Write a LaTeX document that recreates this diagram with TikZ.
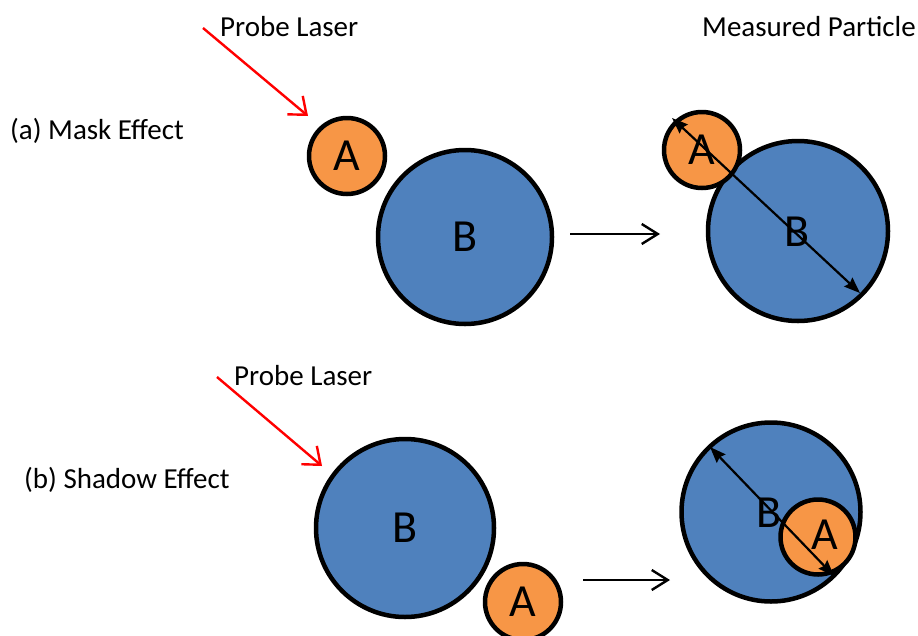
\documentclass[tikz,border=0pt]{standalone}
\usepackage{fontspec}
\setmainfont{Carlito}
\usetikzlibrary{arrows.meta}
\definecolor{orng}{HTML}{F79646}
\definecolor{blu}{HTML}{4F81BD}
\begin{document}
\begin{tikzpicture}[x=1pt,y=-1pt,
  lbl/.style={anchor=west,inner sep=0pt,font=\fontsize{29}{34}\selectfont},
  letter/.style={inner sep=0pt,font=\fontsize{46}{52}\selectfont},
  ball/.style={circle,draw=black,line width=4.5pt,inner sep=0pt,font=\fontsize{46}{52}\selectfont},
  aball/.style={ball,fill=orng,minimum size=#1},
  bball/.style={ball,fill=blu,minimum size=#1},
  laser/.style={red,line width=2.4pt,-{Straight Barb[length=15pt,width=24pt,line width=2.4pt]}},
  goes/.style={black,line width=2.4pt,-{Straight Barb[length=16pt,width=20pt,line width=2.4pt]}},
  dia/.style={black,line width=2.2pt,{Stealth[length=16pt,width=12pt,inset=2pt]}-{Stealth[length=16pt,width=12pt,inset=2pt]}}]
\useasboundingbox (0,0) rectangle (918,635);
\clip (0,0) rectangle (918,635);
% texts
\node[lbl] (pl1) at (220,27) {Probe Laser};
\node[lbl] (mp) at (702,27) {Measured Particle};
\node[lbl] (ta) at (10,131) {(a) Mask Effect};
\node[lbl] (tb) at (24,480) {(b) Shadow Effect};
\node[lbl] (pl2) at (234,376) {Probe Laser};
% (a) left
\node[aball=76pt] (a1) at (347,156) {A};
\node[bball=174pt] (b1) at (465,237) {B};
\coordinate (s1) at (203,28);
\coordinate (e1) at (308,116);
\draw[laser] (s1) -- (e1);
\coordinate (m1s) at (570,234);
\coordinate (m1e) at (660,234);
\draw[goes] (m1s) -- (m1e);
% (a) right
\node[bball=180pt] (b2) at (798,231) {};
\node[aball=76pt] (a2) at (702,150) {};
\node[letter] (a2t) at (702,150) {A};
\node[letter] (b2t) at (797,232) {B};
\coordinate (d1s) at (672,118);
\coordinate (d1e) at (860,293);
\draw[dia] (d1s) -- (d1e);
% (b) left
\node[bball=178pt] (b3) at (405,528) {B};
\node[aball=76pt] (a3) at (523,602) {A};
\coordinate (s2) at (217,377);
\coordinate (e2) at (322,466);
\draw[laser] (s2) -- (e2);
\coordinate (m2s) at (583,580);
\coordinate (m2e) at (670,580);
\draw[goes] (m2s) -- (m2e);
% (b) right
\node[bball=179pt] (b4) at (771,512) {};
\node[letter] (b4t) at (769,513) {B};
\node[aball=75pt] (a4) at (818,537) {};
\node[letter] (a4t) at (825,535) {A};
\coordinate (d2s) at (710,447);
\coordinate (d2e) at (834,576);
\draw[dia] (d2s) -- (d2e);
\end{tikzpicture}
\end{document}
